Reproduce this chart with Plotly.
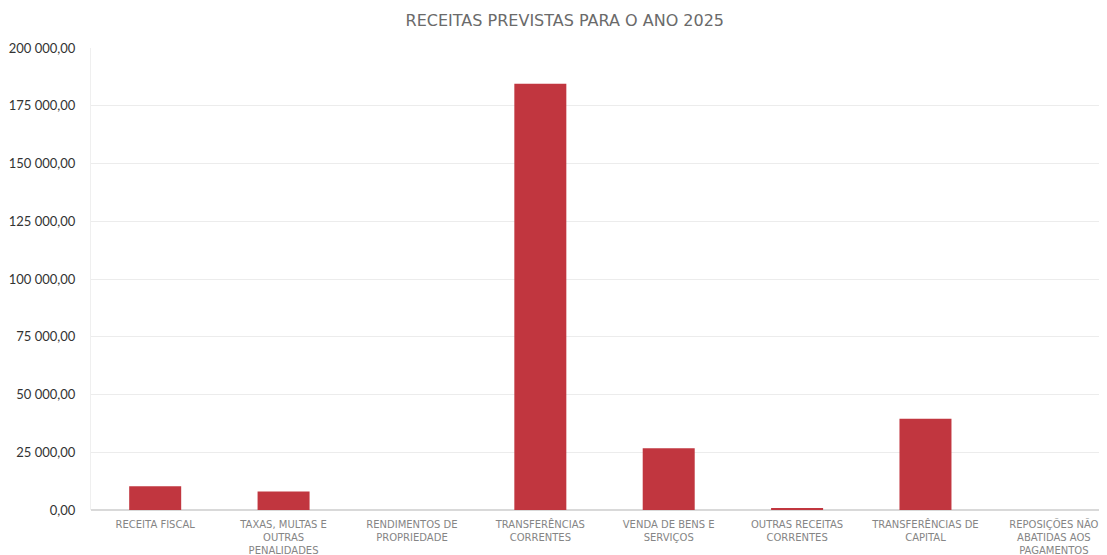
import plotly.graph_objects as go

CATEGORIAS = [
    "RECEITA FISCAL",
    "TAXAS, MULTAS E<br>OUTRAS<br>PENALIDADES",
    "RENDIMENTOS DE<br>PROPRIEDADE",
    "TRANSFERÊNCIAS<br>CORRENTES",
    "VENDA DE BENS E<br>SERVIÇOS",
    "OUTRAS RECEITAS<br>CORRENTES",
    "TRANSFERÊNCIAS DE<br>CAPITAL",
    "REPOSIÇÕES NÃO<br>ABATIDAS AOS<br>PAGAMENTOS",
]
VALORES = [10300, 8000, 0, 184500, 26750, 600, 39500, 0]
Y_TICKS = [0, 25000, 50000, 75000, 100000, 125000, 150000, 175000, 200000]

COR_BARRA = "#c1363f"

fig = go.Figure()
fig.add_bar(
    x=list(range(len(CATEGORIAS))), y=VALORES, width=0.405,
    marker=dict(color=COR_BARRA, line=dict(width=0)),
)
# a página tem margem de 8px no body: compensado nas margens
fig.update_layout(
    width=1107, height=555,
    paper_bgcolor="white", plot_bgcolor="white",
    margin=dict(l=83, r=8, t=40, b=53),
    separators=", ",
    showlegend=False,
    font=dict(family="Lato, Open Sans, sans-serif"),
    title=dict(
        text="RECEITAS PREVISTAS PARA O ANO 2025",
        x=0.503, xanchor="center", y=0.978, yanchor="middle",
        font=dict(family="DejaVu Sans", size=16, color="#6a6a6a"),
    ),
)
fig.update_xaxes(
    tickmode="array", tickvals=list(range(len(CATEGORIAS))), ticktext=CATEGORIAS,
    range=[-0.5, 7.414], tickangle=0, showgrid=False, zeroline=False,
    showline=False, ticks="", ticklabelstandoff=7, automargin=False,
    tickfont=dict(family="DejaVu Sans", size=10, color="#858585"),
)
fig.update_yaxes(
    range=[0, 200000], tickvals=Y_TICKS, tickformat=",.2f",
    showgrid=True, gridcolor="#ececec", gridwidth=1,
    zeroline=True, zerolinecolor="#d9d9d9", automargin=False,
    showline=True, linecolor="#efefef", ticks="", ticklabelstandoff=12,
    tickfont=dict(size=13, color="#333333"),
)

fig.write_html("out.html")
